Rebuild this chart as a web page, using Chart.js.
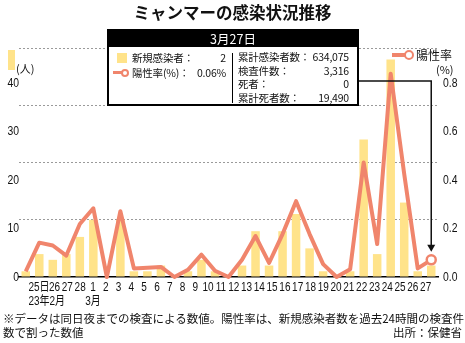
<!DOCTYPE html>
<html>
<head>
<meta charset="utf-8">
<script src="https://cdn.jsdelivr.net/npm/chart.js@4.4.0/dist/chart.umd.min.js"></script>
<style>
body { margin: 0; background: #fff; font-family: 'Noto Sans CJK JP', sans-serif; color: #111; }
#wrap { position: relative; width: 465px; height: 343px; overflow: hidden; }
#c { position: absolute; left: 0; top: 0; }
.t { position: absolute; white-space: nowrap; }
#title { left: 0; width: 465px; top: 1px; text-align: center; font-size: 16.5px; font-weight: bold; line-height: 22px; }
#box { position: absolute; left: 107px; top: 29px; width: 252px; height: 77px; border: 2px solid #000; box-sizing: border-box; background: #fff; }
#boxHead { background: #000; color: #fff; height: 16px; line-height: 16px; text-align: center; font-size: 12.5px; }
.row { position: absolute; display: flex; justify-content: space-between; font-size: 10.5px; line-height: 13px; height: 13px; white-space: nowrap; letter-spacing: -0.2px; }
.row span { white-space: nowrap; }
.note { font-size: 11.5px; line-height: 14px; }
</style>
</head>
<body>
<div id="wrap">
  <canvas id="c" width="465" height="343"></canvas>
  <div class="t" id="title">ミャンマーの感染状況推移</div>

  <!-- left axis legend -->
  <div class="t" style="left:8px;top:50px;width:7px;height:20px;background:#FFE38A"></div>
  <div class="t" style="left:16px;top:61px;font-size:11px;line-height:14px">(人)</div>

  <!-- right axis legend -->
  <div class="t" style="left:392px;top:53px;width:14px;height:4px;background:#F0856C"></div>
  <div class="t" style="left:404px;top:50px;width:6px;height:6px;border:2.5px solid #F0856C;border-radius:50%;background:#fff"></div>
  <div class="t" style="left:416px;top:47px;font-size:12px;line-height:16px">陽性率</div>
  <div class="t" style="left:436px;top:62px;font-size:11px;line-height:14px">(%)</div>

  <div id="box"><div id="boxHead"></div></div>
  <div class="t" style="left:117px;top:53px;width:10px;height:10px;background:#FFE38A"></div>
  <div class="t" style="left:113px;top:71px;width:9px;height:3px;background:#F0856C"></div>
  <div class="t" style="left:121px;top:69px;width:4px;height:4px;border:2px solid #F0856C;border-radius:50%;background:#fff"></div>
  <div class="t" style="left:232px;top:53px;width:1px;height:50px;background:#000"></div>
  <div id="boxRows"></div>

  <div class="t note" style="left:3px;top:311px">※データは同日夜までの検査による数値。陽性率は、新規感染者数を過去24時間の検査件</div>
  <div class="t note" style="left:3px;top:325px">数で割った数値</div>
  <div class="t note" style="right:3px;top:325px">出所：保健省</div>
</div>
<script>
// --- DATA ---
const days = ['25日  ', '26', '27', '28', '1', '2', '3', '4', '5', '6', '7', '8', '9', '10', '11', '12',
  '13', '14', '15', '16', '17', '18', '19', '20', '21', '22', '23', '24', '25', '26', '27'];
const monthLabels = ['23年  ', '  2月', '', '', '3月', '', '', '', '', '', '', '', '', '', '', '',
  '', '', '', '', '', '', '', '', '', '', '', '', '', '', ''];
const newCases = [1, 4, 3, 4, 7, 10, 0, 10, 1, 1, 2, 0, 1, 3, 1, 0,
  2, 8, 2, 8, 11, 5, 1, 0, 1, 24, 4, 38, 13, 1, 2];
const positiveRate = [0.02, 0.12, 0.11, 0.075, 0.185, 0.24, 0, 0.23, 0.03, 0.032, 0.035, 0, 0.025, 0.078, 0.022, 0,
  0.06, 0.143, 0.049, 0.15, 0.265, 0.15, 0.045, 0, 0.027, 0.40, 0.115, 0.71, 0.36, 0.03, 0.06];
const leftTicks = [0, 10, 20, 30, 40];
const rightTicks = [0, 0.2, 0.4, 0.6, 0.8];

const boxDate = '3月27日';
const boxLeft = [['新規感染者：', '2'], ['陽性率(%)：', '0.06%']];
const boxRight = [['累計感染者数：', '634,075'], ['検査件数：', '3,316'], ['死者：', '0'], ['累計死者数：', '19,490']];

const YELLOW = '#FFE38A';
const CORAL = '#F0856C';
const TICK_FONT = "'Liberation Sans', 'Noto Sans CJK JP', sans-serif";

// --- INFO BOX ---
document.getElementById('boxHead').innerText = boxDate;
const rows = document.getElementById('boxRows');
boxLeft.forEach((r, i) => {
  rows.innerHTML += `<div class="row" style="left:132px;width:94px;top:${51 + i * 15}px"><span>${r[0]}</span><span>${r[1]}</span></div>`;
});
boxRight.forEach((r, i) => {
  rows.innerHTML += `<div class="row" style="left:238px;width:111px;top:${50 + i * 13.5}px"><span>${r[0]}</span><span>${r[1]}</span></div>`;
});

// tick labels in the print use a condensed face: squeeze canvas text horizontally
const narrowLabels = {
  id: 'narrowLabels',
  beforeDraw(chart) {
    const fill = CanvasRenderingContext2D.prototype.fillText;
    chart.ctx.fillText = function (text, x, y) {
      this.save(); this.translate(x, y); this.scale(0.8, 1);
      fill.call(this, text, 0, 0);
      this.restore();
    };
  },
  afterDraw(chart) { delete chart.ctx.fillText; }
};

// arrow from the box down to the last point
const connector = {
  id: 'connector',
  afterDraw(chart) {
    const ctx = chart.ctx;
    const last = positiveRate.length - 1;
    const px = chart.scales.x.getPixelForValue(last);
    const py = chart.scales.y1.getPixelForValue(positiveRate[last]);
    const tip = py - 8;
    ctx.save();
    ctx.strokeStyle = '#111'; ctx.fillStyle = '#111'; ctx.lineWidth = 1.5;
    ctx.beginPath(); ctx.moveTo(350, 81); ctx.lineTo(px, 81); ctx.lineTo(px, tip - 5); ctx.stroke();
    ctx.beginPath(); ctx.moveTo(px - 4, tip - 7); ctx.lineTo(px + 4, tip - 7); ctx.lineTo(px, tip); ctx.closePath(); ctx.fill();
    ctx.restore();
  }
};

new Chart(document.getElementById('c'), {
  type: 'bar',
  data: {
    labels: days,
    datasets: [{
      type: 'line',
      data: positiveRate,
      yAxisID: 'y1',
      borderColor: CORAL,
      borderWidth: 4,
      borderJoinStyle: 'round',
      tension: 0,
      clip: false,
      pointRadius: c => c.dataIndex === positiveRate.length - 1 ? 4.5 : 0,
      pointBackgroundColor: '#fff',
      pointBorderColor: CORAL,
      pointBorderWidth: 2.5,
      order: 1
    }, {
      data: newCases,
      yAxisID: 'y',
      backgroundColor: YELLOW,
      barPercentage: 0.63,
      categoryPercentage: 1,
      order: 2
    }]
  },
  options: {
    responsive: false,
    animation: false,
    layout: { padding: { top: 48, left: 0, right: 0, bottom: 0 } },
    plugins: { legend: { display: false }, tooltip: { enabled: false } },
    scales: {
      x: {
        weight: 0,
        ticks: { display: false },
        grid: { display: false, drawTicks: false },
        border: { color: '#000', width: 1.5 },
        afterFit: s => { s.height = 0; }
      },
      // label axis, the printed day labels sit on a slightly different pitch
      xl: {
        type: 'linear', position: 'bottom', weight: 1,
        min: -1.2657, max: 30.454,
        grid: { display: false, drawTicks: false },
        border: { display: false },
        ticks: {
          stepSize: 1, autoSkip: false, maxRotation: 0, includeBounds: false, padding: 4,
          color: '#111',
          font: { family: TICK_FONT, size: 12.5, lineHeight: 1.12 },
          callback: v => (v >= 0 && v < days.length) ? (monthLabels[v] ? [days[v], monthLabels[v]] : days[v]) : ''
        },
        afterFit: s => { s.height = 66; }
      },
      y: {
        position: 'left', weight: 0,
        min: 0, max: 40,
        ticks: { display: false, stepSize: 10 },
        grid: { color: c => c.tick.value === 0 ? 'transparent' : '#9a9a9a', lineWidth: 1, drawTicks: false },
        border: { display: false, dash: [2, 2] },
        afterFit: s => { s.width = 0; }
      },
      y1: { position: 'right', min: 0, max: 0.8, display: false },
      // tick label axes (labels in the print do not sit on the grid lines)
      yl: {
        type: 'linear', position: 'left', weight: 1,
        min: 0, max: 47.2,
        grid: { display: false, drawTicks: false },
        border: { display: false },
        ticks: {
          stepSize: 10, includeBounds: false, padding: 0, color: '#111',
          font: { family: TICK_FONT, size: 13 },
          callback: v => leftTicks.includes(v) ? String(v) : ''
        },
        afterFit: s => { s.width = 19; }
      },
      yr: {
        type: 'linear', position: 'right', weight: 1,
        min: 0, max: 0.944,
        grid: { display: false, drawTicks: false },
        border: { display: false },
        ticks: {
          stepSize: 0.2, includeBounds: false, padding: 5, color: '#111',
          font: { family: TICK_FONT, size: 13 },
          callback: v => rightTicks.some(t => Math.abs(t - v) < 1e-6) ? v.toFixed(1) : ''
        },
        afterFit: s => { s.width = 27; }
      }
    }
  },
  plugins: [narrowLabels, connector]
});
</script>
</body>
</html>
